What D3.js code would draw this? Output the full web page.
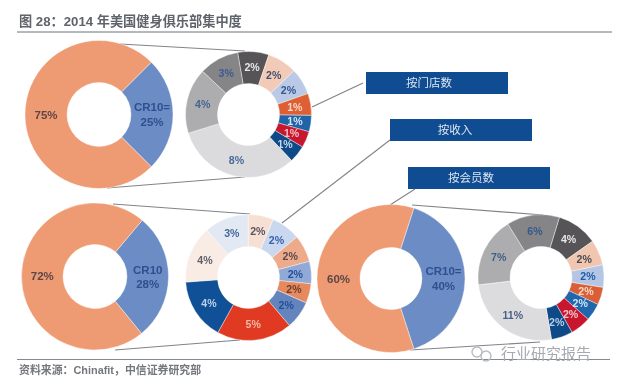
<!DOCTYPE html>
<html><head><meta charset="utf-8">
<script src="https://cdn.jsdelivr.net/npm/d3@7/dist/d3.min.js"></script>
<style>
html,body{margin:0;padding:0;background:#fff}
svg{display:block;filter:blur(0.55px)}
text{font-family:"Liberation Sans","Noto Sans CJK SC",sans-serif}
</style></head><body><svg id="c" width="640" height="382"></svg>
<script>
// ---- data ----
const titleText = "图 28：2014 年美国健身俱乐部集中度";
const sourceText = "资料来源：Chinafit，中信证券研究部";
const watermarkText = "行业研究报告";
const boxLabels = ["按门店数", "按收入", "按会员数"];

const bigLabelsA = ["CR10=\n25%", "75%"];
const bigValuesA = [25, 75];
const bigLabelsB = ["CR10\n28%", "72%"];
const bigValuesB = [28, 72];
const bigLabelsC = ["CR10=\n40%", "60%"];
const bigValuesC = [40, 60];

const smallLabelsA = ["2%","2%","2%","1%","1%","1%","1%","8%","4%","3%"];
const smallValuesA = [2.0,1.9,1.7,1.4,1.05,1.05,1.1,8.05,4.2,2.55];
const smallColorsA = ["#565456","#F2CBB8","#B9C9E6","#DE5F33","#1F64A8","#C9162F","#0F4A88","#DBDBDD","#ADADAF","#858587"];
const smallTextA = ["#e8e8e8","#44506e","#35568f","#f6d8c8","#d5e4f2","#f4c0c0","#c8d8ea","#4a6a98","#45658f","#3f5a8f"];

const smallLabelsB = ["2%","2%","2%","2%","2%","5%","4%","4%","3%","2%"];
const smallValuesB = [2.1,1.95,1.6,1.4,2.0,5.4,4.4,4.1,3.2,1.8];
const smallColorsB = ["#C9D7EF","#EDAB8C","#90A9D7","#E6895F","#6484BE","#E03B22","#0F5096","#F8ECE5","#E3E9F3","#F6DFD3"];
const smallTextB = ["#3a62a8","#5a4a4a","#24509a","#6a3f30","#24509a","#f3b9a4","#bcd4ea","#5f6068","#44689c","#5a5560"];

const smallLabelsC = ["4%","2%","2%","2%","2%","2%","2%","11%","7%","6%"];
const smallValuesC = [4.2,2.6,2.3,1.8,1.8,2.1,2.2,10.3,7.2,5.4];
const smallColorsC = ["#565456","#F1C6B0","#B4C6E4","#DA5F38","#1F66AC","#C9162F","#0F4A88","#DCDCDE","#ADADAF","#858587"];
const smallTextC = ["#e8e8e8","#4a4a50","#1f5ba8","#f8d8c4","#cfe4f4","#f6c4c4","#b8d0ea","#4a5f85","#3f5f85","#33578f"];

const bigColors = ["#6B8CC4","#EE9A72"];
const bigText = ["#2F4F8E","#5C4648"];

const rows = [
  {big:{c:[99,114.5],R:74,r:32,start:45,v:bigValuesA,l:bigLabelsA},
   small:{c:[248.5,114.5],R:63,r:31,start:-10,v:smallValuesA,l:smallLabelsA,col:smallColorsA,tx:smallTextA}},
  {big:{c:[95,276.5],R:73.5,r:32,start:40,v:bigValuesB,l:bigLabelsB},
   small:{c:[248.5,277.5],R:63,r:31,start:23,v:smallValuesB,l:smallLabelsB,col:smallColorsB,tx:smallTextB}},
  {big:{c:[391,278.5],R:74,r:31,start:18,v:bigValuesC,l:bigLabelsC},
   small:{c:[541,277.5],R:63,r:31,start:17,v:smallValuesC,l:smallLabelsC,col:smallColorsC,tx:smallTextC}}
];

const connectors = [
  [120,44,245,51],[107,188,245,177],
  [113,204,250,214],[115,350,240,340],
  [412,205,543,215],[410,350,540,342],
  [363,83,312,107],[390,140,282,223],[415,189,390,205]
];
const boxes = [[366,72],[390,119],[408,167]];
const boxTextOffsets = [63,65,63];

// ---- drawing ----
const svg = d3.select("#c");
const rad = d => d*Math.PI/180;

svg.append("text").attr("x",19).attr("y",26).attr("font-size",13.2).attr("font-weight","bold")
  .attr("fill","#5f646b").text(titleText);
svg.append("line").attr("x1",17).attr("x2",612).attr("y1",32).attr("y2",32).attr("stroke","#6b7078").attr("stroke-width",1);
svg.append("line").attr("x1",17).attr("x2",610).attr("y1",359.5).attr("y2",359.5).attr("stroke","#85888c").attr("stroke-width",1);
svg.append("text").attr("x",19).attr("y",374).attr("font-size",10.9).attr("font-weight","bold")
  .attr("fill","#74777c").text(sourceText);

svg.selectAll("line.conn").data(connectors).join("line").attr("class","conn")
  .attr("x1",d=>d[0]).attr("y1",d=>d[1]).attr("x2",d=>d[2]).attr("y2",d=>d[3])
  .attr("stroke","#808488").attr("stroke-width",1.1);

function donut(cfg, colors, txt, size, lh){
  const g = svg.append("g").attr("transform",`translate(${cfg.c[0]},${cfg.c[1]})`);
  const pie = d3.pie().sort(null).startAngle(rad(cfg.start)).endAngle(rad(cfg.start+360));
  const arc = d3.arc().innerRadius(cfg.r).outerRadius(cfg.R);
  const arcs = pie(cfg.v);
  g.selectAll("path").data(arcs).join("path").attr("d",arc)
    .attr("fill",(d,i)=>colors[i]).attr("stroke","#fff").attr("stroke-width",0.4);
  arcs.forEach((d,i)=>{
    const [x,y] = arc.centroid(d);
    const parts = cfg.l[i].split("\n");
    const t = g.append("text").attr("text-anchor","middle").attr("font-size",size)
      .attr("fill",txt[i]).attr("font-weight", 600);
    parts.forEach((p,k)=>t.append("tspan").attr("x",x)
      .attr("y",y+(k-(parts.length-1)/2)*lh+size*0.36).text(p));
  });
}
rows.forEach(r=>{
  donut(r.big,bigColors,bigText,11.5,14.5);
  donut(r.small,r.small.col,r.small.tx,10.6,13);
});

boxes.forEach((b,i)=>{
  svg.append("rect").attr("x",b[0]).attr("y",b[1]).attr("width",142).attr("height",22).attr("fill","#0F4C91");
  svg.append("text").attr("x",b[0]+boxTextOffsets[i]).attr("y",b[1]+15).attr("text-anchor","middle")
    .attr("font-size",11.5).attr("font-family","'Noto Sans CJK SC'").attr("fill","#dce6f2").text(boxLabels[i]);
});

// watermark
const wm = svg.append("g").attr("fill","none").attr("stroke","#b8bcc2").attr("stroke-width",1.4);
wm.append("circle").attr("cx",477).attr("cy",352).attr("r",5);
wm.append("circle").attr("cx",486).attr("cy",356).attr("r",5);
svg.append("text").attr("x",501).attr("y",359).attr("font-size",15)
  .attr("font-family","'Noto Sans CJK SC'").attr("fill","#a6aab0").text(watermarkText);
</script></body></html>
